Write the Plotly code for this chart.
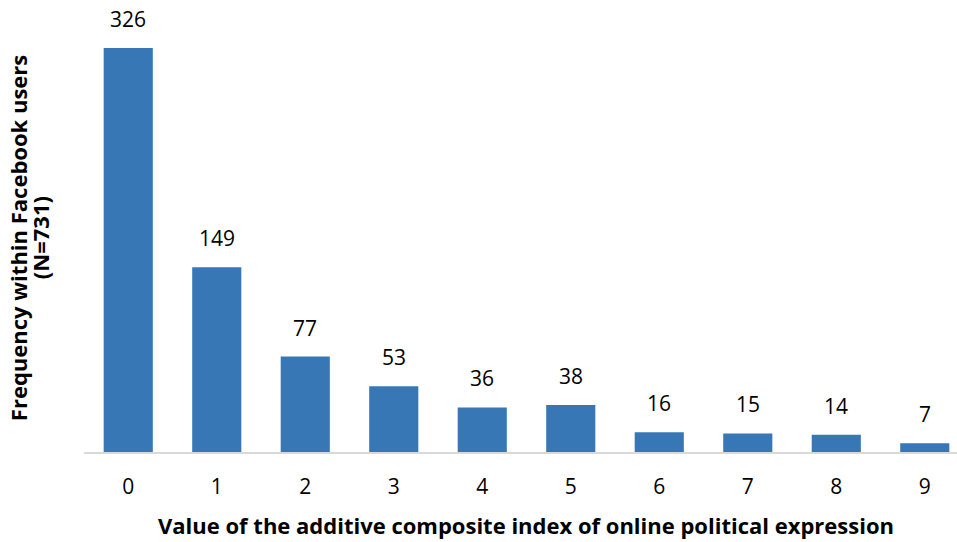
import plotly.graph_objects as go

# Frequency of each score on the composite index of online political expression
categories = ["0", "1", "2", "3", "4", "5", "6", "7", "8", "9"]
frequencies = [326, 149, 77, 53, 36, 38, 16, 15, 14, 7]

x_title = "Value of the additive composite index of online political expression"
y_title_lines = ["Frequency within Facebook users", "(N=731)"]

FONT = "Open Sans"
BAR_COLOR = "#3777B5"
positions = list(range(len(categories)))

fig = go.Figure(
    go.Bar(
        x=positions,
        y=frequencies,
        width=0.555,
        marker=dict(color=BAR_COLOR, line=dict(width=0)),
        cliponaxis=False,
        hoverinfo="x+y",
    )
)

# value labels sitting above each bar
value_labels = [
    dict(
        x=xi, y=v, xref="x", yref="y",
        text=str(v),
        xanchor="center", yanchor="bottom",
        yshift=13,
        showarrow=False,
        font=dict(family=FONT, size=21, color="#000000"),
    )
    for xi, v in zip(positions, frequencies)
]

# rotated y-axis title, one annotation per line for tighter line spacing
y_title_annots = [
    dict(
        text=line,
        xref="paper", yref="paper",
        x=0, y=0.495,
        xanchor="center", yanchor="middle",
        xshift=shift,
        textangle=-90,
        showarrow=False,
        font=dict(family=FONT, size=22, color="#000000", weight="bold"),
    )
    for line, shift in zip(y_title_lines, [-66, -44])
]

fig.update_layout(
    width=957,
    height=542,
    margin=dict(l=84, r=0, t=20, b=90),
    paper_bgcolor="white",
    plot_bgcolor="white",
    showlegend=False,
    font=dict(family=FONT, color="#000000"),
    xaxis=dict(
        range=[-0.5, 9.364],
        tickmode="array",
        tickvals=positions,
        ticktext=categories,
        tickfont=dict(family=FONT, size=21, color="#000000"),
        showgrid=False,
        zeroline=False,
        showline=True,
        linecolor="#D9D9D9",
        linewidth=1.5,
        ticks="",
        ticklabelstandoff=15,
    ),
    yaxis=dict(
        range=[0, 348.6],
        showgrid=False,
        zeroline=False,
        showline=False,
        showticklabels=False,
        ticks="",
    ),
    annotations=value_labels + y_title_annots + [
        dict(
            text=x_title,
            xref="paper", yref="paper",
            x=0.506, y=0,
            xanchor="center", yanchor="middle",
            yshift=-73,
            showarrow=False,
            font=dict(family=FONT, size=22, color="#000000", weight="bold"),
        ),
    ],
)

fig.write_html("out.html")
